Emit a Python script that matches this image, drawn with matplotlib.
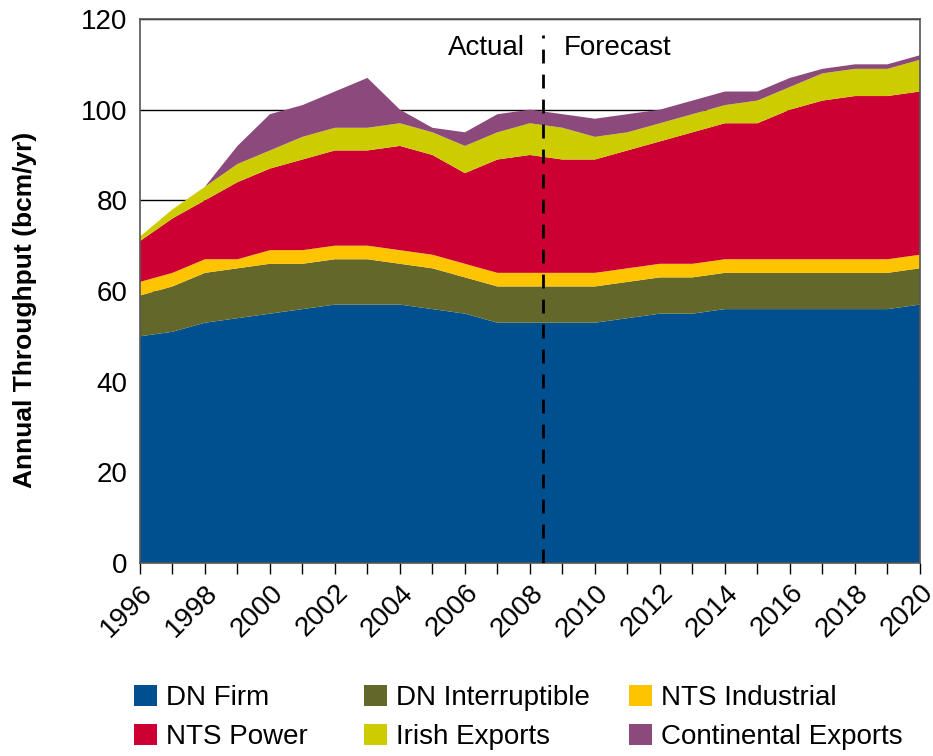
import matplotlib
matplotlib.use("Agg")
import matplotlib.pyplot as plt
import numpy as np
from matplotlib.patches import Patch

years = list(range(1996, 2021))
dn_firm = [50, 51, 53, 54, 55, 56, 57, 57, 57, 56, 55, 53, 53, 53, 53, 54, 55, 55, 56, 56, 56, 56, 56, 56, 57]
dn_interruptible = [9, 10, 11, 11, 11, 10, 10, 10, 9, 9, 8, 8, 8, 8, 8, 8, 8, 8, 8, 8, 8, 8, 8, 8, 8]
nts_industrial = [3, 3, 3, 2, 3, 3, 3, 3, 3, 3, 3, 3, 3, 3, 3, 3, 3, 3, 3, 3, 3, 3, 3, 3, 3]
nts_power = [9, 12, 13, 17, 18, 20, 21, 21, 23, 22, 20, 25, 26, 25, 25, 26, 27, 29, 30, 30, 33, 35, 36, 36, 36]
irish_exports = [1, 2, 3, 4, 4, 5, 5, 5, 5, 5, 6, 6, 7, 7, 5, 4, 4, 4, 4, 5, 5, 6, 6, 6, 7]
continental_exports = [0, 0, 0, 4, 8, 7, 8, 11, 3, 1, 3, 4, 3, 3, 4, 4, 3, 3, 3, 2, 2, 1, 1, 1, 1]

series_names = ["DN Firm", "DN Interruptible", "NTS Industrial", "NTS Power", "Irish Exports", "Continental Exports"]
colors = ["#00508F", "#63682A", "#FFC400", "#CC0033", "#CCCC00", "#8C4A7C"]
split_year = 2008.4
y_ticks = [0, 20, 40, 60, 80, 100, 120]

plt.rcParams['font.family'] = ['Liberation Sans', 'DejaVu Sans']

fig = plt.figure(figsize=(9.33, 7.56), dpi=100)
ax = fig.add_axes([0.150, 0.2553, 0.836, 0.7196])

ax.set_axisbelow(True)
ax.yaxis.grid(True, color="black", linewidth=1.0)
ax.stackplot(years, dn_firm, dn_interruptible, nts_industrial, nts_power,
             irish_exports, continental_exports, colors=colors, linewidth=0, zorder=2)

ax.set_xlim(1996, 2020)
ax.set_ylim(0, 120)
ax.set_yticks(y_ticks)
ax.set_xticks(years, minor=False)
ax.set_xticklabels([str(y) if (y % 2 == 0) else "" for y in years], rotation=45,
                   ha="right", rotation_mode="anchor", fontsize=20)
ax.tick_params(axis="x", direction="out", length=8, width=1, pad=4)
ax.tick_params(axis="y", direction="out", length=0, labelsize=20, pad=9)

for s in ax.spines.values():
    s.set_color("#555555")
    s.set_linewidth(1.2)

ax.plot([split_year, split_year], [0, 116.5], color="black", linestyle=(0, (5, 4)),
        linewidth=2, zorder=4)
ax.text(split_year - 0.55, 113.5, "Actual", ha="right", va="center", fontsize=20)
ax.text(split_year + 0.65, 113.5, "Forecast", ha="left", va="center", fontsize=20)

ax.set_ylabel("Annual Throughput (bcm/yr)", fontsize=19, fontweight="bold")
ax.yaxis.set_label_coords(-0.132, 0.465)

handles = [Patch(facecolor=c, edgecolor="none") for c in colors]
col_x = [134, 364, 629]
col_items = [[0, 3], [1, 4], [2, 5]]
for cx, items in zip(col_x, col_items):
    fig.legend([handles[i] for i in items], [series_names[i] for i in items],
               loc="center left", bbox_to_anchor=(cx / 933, 1 - 717.5 / 756),
               ncol=1, frameon=False, fontsize=20, handlelength=0.83,
               handleheight=0.8, handletextpad=0.33, labelspacing=0.45,
               borderpad=0, borderaxespad=0)

fig.savefig("out.png", dpi=100)
